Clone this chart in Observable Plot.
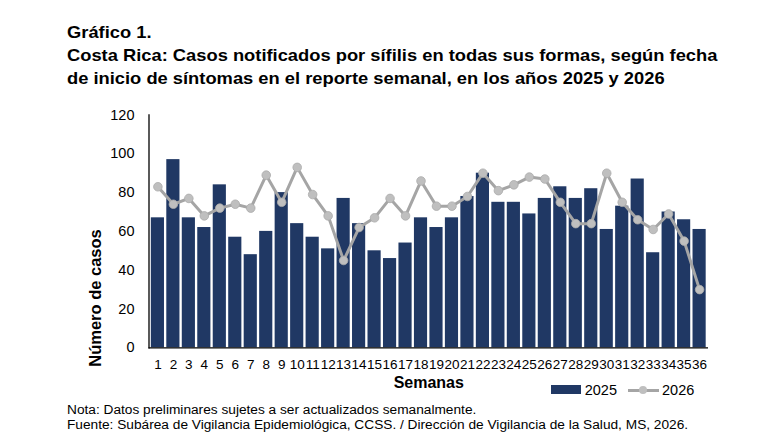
<!DOCTYPE html>
<html>
<head>
<meta charset="utf-8">
<script src="https://cdn.jsdelivr.net/npm/d3@7"></script>
<script src="https://cdn.jsdelivr.net/npm/@observablehq/plot@0.6"></script>
<style>
  body { margin: 0; background: #fff; font-family: Arial, "Liberation Sans", sans-serif; color: #000; }
  #wrap { position: relative; width: 767px; height: 448px; overflow: hidden; }
  #title { position: absolute; left: 67px; top: 20.5px; font-weight: bold; font-size: 16.3px; line-height: 23.3px; white-space: nowrap; transform: scaleX(1.125); transform-origin: 0 0; }
  #chart { position: absolute; left: 0; top: 100px; }
  #ylabel { position: absolute; left: -4.7px; top: 288px; width: 200px; line-height: 20px; text-align: center; font-weight: bold; font-size: 16.5px; transform: rotate(-90deg); transform-origin: 50% 50%; white-space: nowrap; }
  .lg { position: absolute; }
  .lgtext { position: absolute; top: 382px; font-size: 14.5px; line-height: 16px; white-space: nowrap; }
  #notes { position: absolute; left: 67px; top: 402.3px; font-size: 13.7px; line-height: 15px; white-space: nowrap; }
</style>
</head>
<body>
<div id="wrap">
  <div id="title">Gráfico 1.<br>Costa Rica: Casos notificados por sífilis en todas sus formas, según fecha<br>de inicio de síntomas en el reporte semanal, en los años 2025 y 2026</div>
  <div id="chart"></div>
  <div id="ylabel">Número de casos</div>
  <div class="lg" style="left:551px;top:385px;width:30px;height:9.4px;background:#203864"></div>
  <div class="lgtext" style="left:584.7px">2025</div>
  <div class="lg" style="left:627.7px;top:388.5px;width:31.3px;height:3px;background:#A5A5A5"></div>
  <div class="lg" style="left:638.7px;top:385.7px;width:8.6px;height:8.6px;border-radius:50%;background:#BFBFBF"></div>
  <div class="lgtext" style="left:662px">2026</div>
  <div id="notes">Nota: Datos preliminares sujetes a ser actualizados semanalmente.<br>Fuente: Subárea de Vigilancia Epidemiológica, CCSS. / Dirección de Vigilancia de la Salud, MS, 2026.</div>
</div>
<script>
const weeks = ["1","2","3","4","5","6","7","8","9","10","11","12","13","14","15","16","17","18",
               "19","20","21","22","23","24","25","26","27","28","29","30","31","32","33","34","35","36"];
const cases2025 = [67,97,67,62,84,57,48,60,80,64,57,51,77,64,50,46,54,67,
                   62,67,78,90,75,75,69,77,83,77,82,61,73,87,49,70,66,61];
const cases2026 = [83,74,77,68,72,74,72,89,75,93,79,68,45,62,67,77,68,86,
                   73,73,78,90,81,84,88,87,75,64,64,90,75,66,61,69,55,30];
const yTicks = [0,20,40,60,80,100,120];

const data = weeks.map((w, i) => ({week: w, y2025: cases2025[i], y2026: cases2026[i]}));

const plot = Plot.plot({
  width: 767,
  height: 300,
  marginTop: 14.5,
  marginBottom: 52.7,
  marginLeft: 148.5,
  marginRight: 59,
  style: {fontFamily: "Arial, 'Liberation Sans', sans-serif", background: "transparent", overflow: "visible", color: "#000"},
  x: {domain: weeks, padding: 0.15, round: false, label: null},
  y: {domain: [0, 120], label: null},
  marks: [
    Plot.barY(data, {x: "week", y: "y2025", fill: "#203864"}),
    Plot.line(data, {x: "week", y: "y2026", stroke: "#A5A5A5", strokeWidth: 3}),
    Plot.dot(data, {x: "week", y: "y2026", r: 4.3, fill: "#BFBFBF", stroke: "#ABABAB", strokeWidth: 0.8}),
    Plot.ruleY([0], {stroke: "#000", strokeWidth: 1.3}),
    Plot.frame({anchor: "left", stroke: "#000", strokeWidth: 1.3}),
    Plot.axisY({ticks: yTicks, tickSize: 0, tickPadding: 14.5, fontSize: 14.5, label: null}),
    Plot.axisX({tickSize: 0, tickPadding: 12, fontSize: 13.5, label: null}),
    Plot.text(["Semanas"], {frameAnchor: "bottom", dy: 40, fontSize: 16, fontWeight: "bold"})
  ]
});
document.getElementById("chart").appendChild(plot);
</script>
</body>
</html>
